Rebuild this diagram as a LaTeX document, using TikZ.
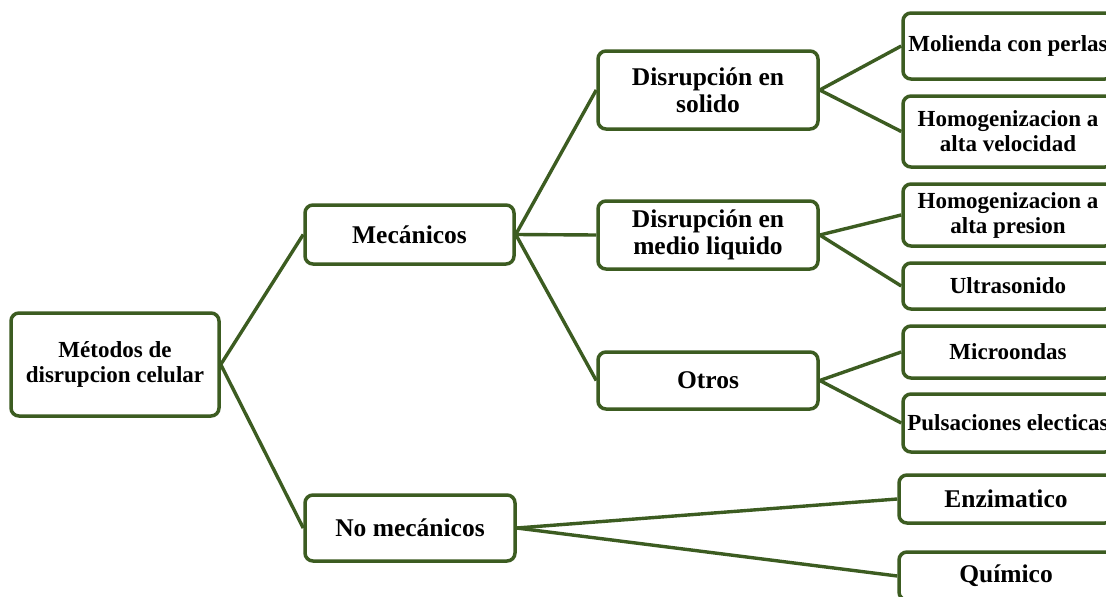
\documentclass[tikz,border=0pt]{standalone}
\usepackage{fontspec}
\setmainfont{Liberation Serif}
\definecolor{dkgreen}{RGB}{60,92,33}
\begin{document}
\begin{tikzpicture}[x=1pt,y=-1pt,
  box/.style={draw=dkgreen, line width=3.5pt, rounded corners=8pt, fill=white,
    inner sep=0pt, align=center},
  link/.style={draw=dkgreen, line width=3.4pt},
  big/.style={font=\fontsize{25.5}{27}\selectfont\bfseries},
  small/.style={font=\fontsize{23}{25}\selectfont\bfseries}]
\clip (0,0) rectangle (1106,597);
\useasboundingbox (0,0) rectangle (1106,597);
\fill[white] (0,0) rectangle (1106,597);

\node[box,small,minimum width=208pt,minimum height=103pt] (root) at (115,364.5) {Métodos de\\disrupcion celular};
\node[box,big,minimum width=209pt,minimum height=59pt] (mec) at (409.5,234.5) {Mecánicos};
\node[box,big,minimum width=210pt,minimum height=66pt] (nomec) at (410,528) {No mecánicos};

\node[box,big,minimum width=220pt,minimum height=78pt] (sol) at (708,90) {Disrupción en\\solido};
\node[box,big,minimum width=220pt,minimum height=68pt] (liq) at (708,235) {Disrupción en\\medio liquido};
\node[box,big,minimum width=220pt,minimum height=57pt] (otros) at (708,380.5) {Otros};

\node[box,small,minimum width=210pt,minimum height=66pt] (mol) at (1008,46) {Molienda con perlas};
\node[box,small,minimum width=210pt,minimum height=71pt] (hvel) at (1008,131.5) {Homogenizacion a\\alta velocidad};
\node[box,small,minimum width=210pt,minimum height=62pt] (hpres) at (1008,215) {Homogenizacion a\\alta presion};
\node[box,small,minimum width=210pt,minimum height=46pt] (ultra) at (1008,286) {Ultrasonido};
\node[box,small,minimum width=210pt,minimum height=52pt] (micro) at (1008,352) {Microondas};
\node[box,small,minimum width=210pt,minimum height=58pt] (puls) at (1008,423) {Pulsaciones electicas};
\node[box,big,minimum width=214pt,minimum height=48pt] (enz) at (1006,499) {Enzimatico};
\node[box,big,minimum width=214pt,minimum height=48pt] (quim) at (1006,576) {Químico};

\draw[link] (root.east) -- (mec.west);
\draw[link] (root.east) -- (nomec.west);
\draw[link] (mec.east) -- (sol.west);
\draw[link] (mec.east) -- (liq.west);
\draw[link] (mec.east) -- (otros.west);
\draw[link] (sol.east) -- (mol.west);
\draw[link] (sol.east) -- (hvel.west);
\draw[link] (liq.east) -- (hpres.west);
\draw[link] (liq.east) -- (ultra.west);
\draw[link] (otros.east) -- (micro.west);
\draw[link] (otros.east) -- (puls.west);
\draw[link] (nomec.east) -- (enz.west);
\draw[link] (nomec.east) -- (quim.west);
\end{tikzpicture}
\end{document}
